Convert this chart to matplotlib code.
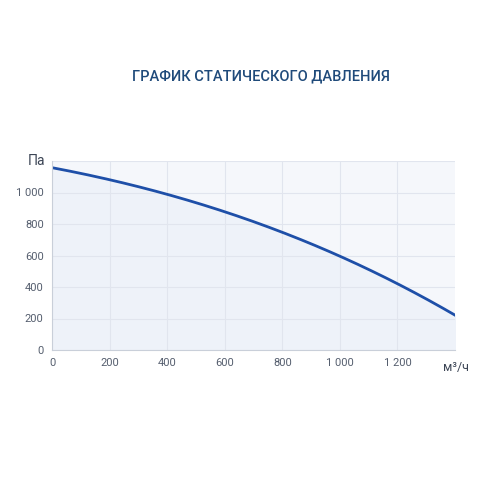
import matplotlib
matplotlib.use("Agg")
import matplotlib.pyplot as plt
import numpy as np

flow = [0, 200, 400, 600, 800, 1000, 1200, 1400]
pressure = [1158, 1080, 990, 876, 748, 597, 419, 222]
xticks = [0, 200, 400, 600, 800, 1000, 1200]
yticks = [0, 200, 400, 600, 800, 1000]
tick_labels_x = ["0", "200", "400", "600", "800", "1 000", "1 200"]
tick_labels_y = ["0", "200", "400", "600", "800", "1 000"]

plt.rcParams['font.family'] = ['Roboto', 'DejaVu Sans']
fig = plt.figure(figsize=(5, 5), dpi=100)
fig.patch.set_facecolor('white')
ax = fig.add_axes([0.104, 0.3, 0.806, 0.378])
ax.set_facecolor('#f5f7fb')

coef = np.polyfit(flow, pressure, 3)
xs = np.linspace(0, 1400, 200)
ys = np.polyval(coef, xs)
ax.fill_between(xs, ys, 0, color='#eef2f9')
ax.plot(xs, ys, color='#1e4fa8', lw=2)

ax.set_xlim(0, 1400)
ax.set_ylim(0, 1200)
ax.set_xticks(xticks, tick_labels_x)
ax.set_yticks(yticks + [1200], tick_labels_y + [""])
ax.grid(True, color='#e1e5ee', lw=0.8)
ax.tick_params(colors='#555e6e', labelsize=8, length=0, pad=6)
for s in ['top', 'right']:
    ax.spines[s].set_visible(False)
for s in ['left', 'bottom']:
    ax.spines[s].set_color('#c9cfd9')
    ax.spines[s].set_linewidth(0.8)

fig.text(0.09, 0.678, "Па", ha='right', va='center', fontsize=10, color='#3c4555')
fig.text(0.912, 0.265, "м³/ч", ha='center', va='center', fontsize=9, color='#3c4555')
fig.text(0.522, 0.848, "ГРАФИК СТАТИЧЕСКОГО ДАВЛЕНИЯ", ha='center', va='center',
         fontsize=10.5, color='#1f4a7a', fontweight='medium')

fig.savefig("out.png", dpi=100)
